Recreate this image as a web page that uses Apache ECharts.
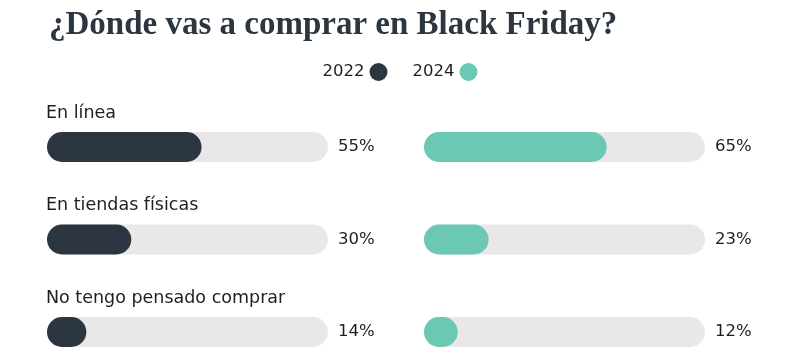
<!DOCTYPE html>
<html><head><meta charset="utf-8">
<script src="https://cdn.jsdelivr.net/npm/echarts@6/dist/echarts.min.js"></script>
<style>html,body{margin:0;padding:0;background:#fff}#c{width:800px;height:362px}</style>
</head><body><div id="c"></div>
<script>
const categories = ['En línea', 'En tiendas físicas', 'No tengo pensado comprar'];
const years = ['2022', '2024'];
const values2022 = [55, 30, 14];
const values2024 = [65, 23, 12];
const trackValues = [100, 100, 100];

const DARK = '#2c3640', TEAL = '#6bc8b2', TRACK = '#eae7e8', TEXT = '#1f1f1f';
const FONT = 'DejaVu Sans';

function grid(left) { return { left: left, width: 281, top: 147, height: 185, containLabel: false, outerBoundsMode: 'none' }; }
function yAx(idx, showLabels) {
  return {
    type: 'category', gridIndex: idx, data: categories, inverse: true, boundaryGap: false,
    axisLine: { show: false }, axisTick: { show: false }, splitLine: { show: false },
    axisLabel: {
      show: showLabels, inside: true, align: 'left', verticalAlign: 'bottom', margin: -1,
      padding: [0, 0, 25, 0], fontFamily: FONT, fontSize: 17.5, color: TEXT
    }
  };
}
function xAx(idx) {
  return { type: 'value', gridIndex: idx, min: 0, max: 100, show: false };
}
function track(idx, vals) {
  return {
    type: 'bar', xAxisIndex: idx, yAxisIndex: idx, data: trackValues, barWidth: 30, barGap: '-100%',
    itemStyle: { color: TRACK, borderRadius: 15 }, silent: true, z: 1,
    label: {
      show: true, position: 'right', distance: 10, fontFamily: FONT, fontSize: 16.5, color: TEXT,
      formatter: p => vals[p.dataIndex] + '%'
    }
  };
}
function valueBar(idx, name, vals, color) {
  return {
    type: 'bar', name: name, xAxisIndex: idx, yAxisIndex: idx, data: vals, barWidth: 30, barGap: '-100%',
    itemStyle: { color: color, borderRadius: 15 }, z: 2
  };
}
const chart = echarts.init(document.getElementById('c'), null, { renderer: 'canvas' });
chart.setOption({
  animation: false,
  title: {
    text: '¿Dónde vas a comprar en Black Friday?', left: 44, top: 4,
    textStyle: { fontFamily: 'Liberation Serif', fontWeight: 'bold', fontSize: 33, color: '#2c3640' }
  },
  legend: {
    data: years, top: 58, left: 'center', align: 'right', icon: 'circle', itemWidth: 18, itemHeight: 18,
    itemGap: 25, textStyle: { fontFamily: FONT, fontSize: 16.5, color: TEXT }
  },
  grid: [grid(47), grid(424)],
  xAxis: [xAx(0), xAx(1)],
  yAxis: [yAx(0, true), yAx(1, false)],
  series: [
    track(0, values2022), valueBar(0, years[0], values2022, DARK),
    track(1, values2024), valueBar(1, years[1], values2024, TEAL)
  ]
});
</script></body></html>
